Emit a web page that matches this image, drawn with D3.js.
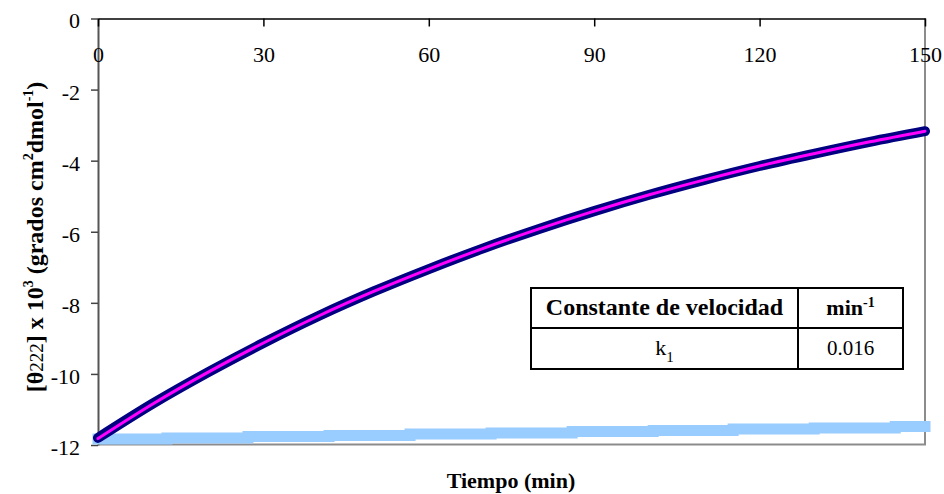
<!DOCTYPE html>
<html>
<head>
<meta charset="utf-8">
<script src="https://cdn.jsdelivr.net/npm/d3@7"></script>
<style>
  html, body { margin: 0; padding: 0; background: #fff; }
  svg { display: block; }
  svg text { font-family: "Liberation Serif", "Times New Roman", Times, serif; }
</style>
</head>
<body>
<svg id="chart" width="944" height="494" font-family="Liberation Serif, Times New Roman, serif"></svg>
<script>
// Ellipticity at 222 nm over time (x 10^3 deg cm2 dmol-1)
const timeMin = [0, 10, 20, 30, 40, 50, 60, 70, 80, 90, 100, 110, 120, 130, 140, 150];
const theta222 = [-11.80, -10.83, -9.95, -9.13, -8.37, -7.68, -7.05, -6.46, -5.92, -5.42, -4.96, -4.54, -4.15, -3.80, -3.47, -3.17];
// Fitted curve over the same times
const theta222Fit = [-11.82, -10.84, -9.95, -9.13, -8.37, -7.68, -7.05, -6.46, -5.92, -5.42, -4.96, -4.54, -4.15, -3.80, -3.47, -3.17];
// Reference trace (recorded in steps)
const refTime = [0, 12.5, 27.2, 41.9, 56.6, 71.3, 86.0, 100.7, 115.2, 129.9, 144.6, 150];
const refTheta = [-11.83, -11.80, -11.76, -11.73, -11.69, -11.66, -11.62, -11.59, -11.55, -11.52, -11.48, -11.48];

const xTicks = [0, 30, 60, 90, 120, 150];
const yTicks = [0, -2, -4, -6, -8, -10, -12];
const tableHeader = ["Constante de velocidad", "min", "-1"];
const tableRow = ["k", "1", "0.016"];

const svg = d3.select("#chart");
const plotLeft = 98, plotRight = 925, plotTop = 18.5, plotBottom = 445;
const serif = "Liberation Serif, Times New Roman, serif";

const x = d3.scaleLinear().domain([0, 150]).range([plotLeft, plotRight]);
const y = d3.scaleLinear().domain([-12, 0]).range([plotBottom, plotTop]);

// frame: grey right and bottom borders
svg.append("line").attr("x1", plotRight).attr("x2", plotRight).attr("y1", plotTop).attr("y2", plotBottom - 0.5)
  .attr("stroke", "#8c8c8c").attr("stroke-width", 2);
svg.append("line").attr("x1", plotLeft).attr("x2", plotRight + 1).attr("y1", plotBottom - 0.5).attr("y2", plotBottom - 0.5)
  .attr("stroke", "#8c8c8c").attr("stroke-width", 2);

// y axis on the left (plain hyphen for negatives)
const yAxis = svg.append("g").attr("transform", `translate(${plotLeft},0)`)
  .call(d3.axisLeft(y).tickValues(yTicks).tickFormat(d => String(d)).tickSize(7).tickPadding(11).tickSizeOuter(0));
yAxis.attr("font-family", serif).attr("font-size", 22);
yAxis.select(".domain").attr("stroke", "#555").attr("stroke-width", 2);
yAxis.selectAll(".tick line").attr("stroke", "#444").attr("stroke-width", 1.5);
yAxis.selectAll(".tick text").attr("fill", "#000").attr("dy", "0.43em");

// x axis along the top, ticks pointing down
const xAxis = svg.append("g").attr("transform", `translate(0,${plotTop})`)
  .call(d3.axisBottom(x).tickValues(xTicks).tickFormat(d => String(d)).tickSize(8).tickSizeOuter(0));
xAxis.attr("font-family", serif).attr("font-size", 22);
xAxis.select(".domain").attr("stroke", "#000").attr("stroke-width", 1.5);
xAxis.selectAll(".tick line").attr("stroke", "#000").attr("stroke-width", 1.5);
xAxis.selectAll(".tick text").attr("fill", "#000").attr("y", 43.5).attr("dy", 0);

// reference trace (light blue band)
const refLine = d3.line().x((d, i) => x(refTime[i])).y(d => y(d)).curve(d3.curveStepAfter);
svg.append("path").attr("d", refLine(refTheta))
  .attr("fill", "none").attr("stroke", "#99ccff").attr("stroke-width", 11).attr("stroke-linecap", "square");

// measured data (navy band)
const dataLine = d3.line().x((d, i) => x(timeMin[i])).y(d => y(d)).curve(d3.curveMonotoneX);
svg.append("path").attr("d", dataLine(theta222))
  .attr("fill", "none").attr("stroke", "#000080").attr("stroke-width", 10).attr("stroke-linecap", "round");

// fitted curve (magenta)
svg.append("path").attr("d", dataLine(theta222Fit))
  .attr("fill", "none").attr("stroke", "#ff00ff").attr("stroke-width", 3).attr("stroke-linecap", "round");

// axis titles
svg.append("text").attr("x", 511).attr("y", 488).attr("text-anchor", "middle")
  .attr("font-family", serif).attr("font-size", 22).attr("font-weight", "bold").text("Tiempo (min)");

const yt = svg.append("text").attr("transform", "translate(43,237) rotate(-90)")
  .attr("text-anchor", "middle").attr("font-family", serif).attr("font-size", 24).attr("font-weight", "bold");
yt.append("tspan").text("[θ");
yt.append("tspan").attr("font-weight", "normal").attr("font-size", 19).text("222");
yt.append("tspan").text("] x 10");
yt.append("tspan").attr("font-size", 14).attr("dy", -10).text("3");
yt.append("tspan").attr("dy", 10).text(" (grados cm");
yt.append("tspan").attr("font-size", 14).attr("dy", -10).text("2");
yt.append("tspan").attr("dy", 10).text("dmol");
yt.append("tspan").attr("font-size", 14).attr("dy", -10).text("-1");
yt.append("tspan").attr("dy", 10).text(")");

// rate constant table
const tx0 = 531, tx1 = 798, tx2 = 903, ty0 = 288, ty1 = 328, ty2 = 369;
const tbl = svg.append("g").attr("font-family", serif);
tbl.append("rect").attr("x", tx0).attr("y", ty0).attr("width", tx2 - tx0).attr("height", ty2 - ty0)
  .attr("fill", "#fff").attr("stroke", "#000").attr("stroke-width", 2);
tbl.append("line").attr("x1", tx1).attr("x2", tx1).attr("y1", ty0).attr("y2", ty2).attr("stroke", "#000").attr("stroke-width", 2);
tbl.append("line").attr("x1", tx0).attr("x2", tx2).attr("y1", ty1).attr("y2", ty1).attr("stroke", "#000").attr("stroke-width", 2);

tbl.append("text").attr("x", (tx0 + tx1) / 2).attr("y", 315).attr("text-anchor", "middle")
  .attr("font-size", 24).attr("font-weight", "bold").text(tableHeader[0]);
const mh = tbl.append("text").attr("x", (tx1 + tx2) / 2).attr("y", 315).attr("text-anchor", "middle")
  .attr("font-size", 22).attr("font-weight", "bold");
mh.append("tspan").text(tableHeader[1]);
mh.append("tspan").attr("font-size", 14).attr("dy", -8).text(tableHeader[2]);

const kt = tbl.append("text").attr("x", (tx0 + tx1) / 2).attr("y", 355).attr("text-anchor", "middle")
  .attr("font-size", 22);
kt.append("tspan").text(tableRow[0]);
kt.append("tspan").attr("font-size", 15).attr("dy", 7).text(tableRow[1]);
tbl.append("text").attr("x", (tx1 + tx2) / 2).attr("y", 355).attr("text-anchor", "middle")
  .attr("font-size", 21).text(tableRow[2]);
</script>
</body>
</html>
